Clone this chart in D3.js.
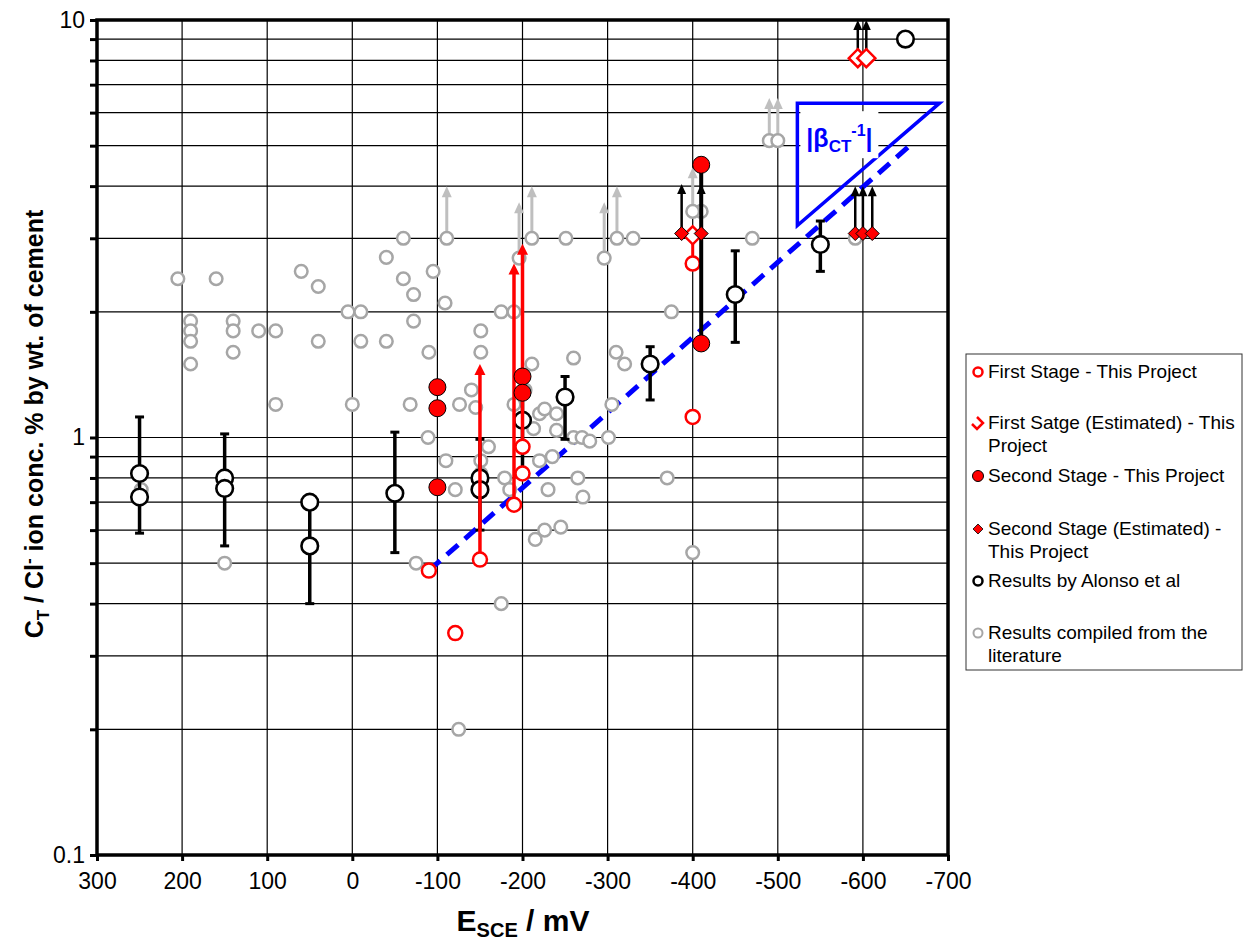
<!DOCTYPE html>
<html>
<head>
<meta charset="utf-8">
<script src="https://cdn.jsdelivr.net/npm/d3@7"></script>
<style>
  body { margin: 0; background: #fff; }
  text { font-family: Arial, "Liberation Sans", sans-serif; }
</style>
</head>
<body>
<div id="chart"></div>
<script>
// x ticks (mV) and y ticks (% by wt. of cement)
var xTicks = [300, 200, 100, 0, -100, -200, -300, -400, -500, -600, -700];
var yTickLabels = [0.1, 1, 10];
var yGrid = [0.2, 0.3, 0.4, 0.5, 0.6, 0.7, 0.8, 0.9, 1, 2, 3, 4, 5, 6, 7, 8, 9];

// results compiled from the literature [E, C]
var literature = [
    [205, 2.4], [160, 2.4], [60, 2.5], [40, 2.3], [5, 2.0], [-10, 2.0],
    [190, 1.9], [190, 1.8], [190, 1.7], [190, 1.5],
    [140, 1.9], [140, 1.8], [140, 1.6], [110, 1.8], [90, 1.8],
    [40, 1.7], [-10, 1.7], [90, 1.2], [0, 1.2], [248, 0.75], [150, 0.5],
    [-60, 3.0], [-40, 2.7], [-95, 2.5], [-60, 2.4], [-72, 2.2], [-109, 2.1],
    [-175, 2.0], [-190, 2.0], [-72, 1.9], [-151, 1.8], [-40, 1.7], [-151, 1.6], [-90, 1.6],
    [-211, 1.5], [-260, 1.55], [-310, 1.6], [-320, 1.5],
    [-140, 1.3], [-68, 1.2], [-126, 1.2], [-145, 1.18], [-190, 1.2], [-203, 1.3],
    [-220, 1.14], [-226, 1.17], [-240, 1.14], [-213, 1.05], [-240, 1.04],
    [-260, 1.0], [-270, 1.0], [-279, 0.98], [-301, 1.0], [-305, 1.2],
    [-89, 1.0], [-160, 0.95], [-110, 0.88], [-151, 0.88], [-151, 0.82],
    [-220, 0.88], [-235, 0.9], [-179, 0.8], [-185, 0.75], [-121, 0.75], [-230, 0.75],
    [-265, 0.8], [-271, 0.72], [-215, 0.57], [-226, 0.6], [-245, 0.61],
    [-75, 0.5], [-175, 0.4], [-125, 0.2],
    [-375, 2.0], [-370, 0.8], [-400, 0.53],
    [-251, 3.0], [-330, 3.0], [-470, 3.0], [-591, 3.0], [-410, 3.48]
];
// literature points with an upward arrow [E, from, to]
var literatureArrows = [
    [-111, 3.0, 4.0], [-196, 2.69, 3.66], [-211, 3.0, 4.0], [-296, 2.69, 3.66],
    [-311, 3.0, 4.0], [-490, 5.14, 6.5], [-500, 5.14, 6.5], [-400, 3.48, 4.44]
];

// Alonso et al: points and error bars [E, low, high]
var alonso = [
    [250, 0.82], [250, 0.72], [150, 0.80], [150, 0.755], [50, 0.70], [50, 0.55],
    [-50, 0.735], [-150, 0.80], [-150, 0.75], [-200, 1.10], [-250, 1.25],
    [-350, 1.50], [-450, 2.20], [-550, 2.90], [-650, 9.0]
];
var alonsoBars = [
    [250, 0.59, 1.12], [150, 0.55, 1.02], [50, 0.40, 0.70], [-50, 0.53, 1.03],
    [-150, 0.60, 0.99], [-200, 0.80, 1.28], [-250, 0.99, 1.40],
    [-350, 1.23, 1.65], [-450, 1.69, 2.80], [-550, 2.50, 3.30]
];

// this project
var firstStage = [[-90, 0.48], [-150, 0.51], [-190, 0.69], [-200, 0.82], [-200, 0.95],
    [-121, 0.34], [-400, 1.12], [-400, 2.61]];
var firstStageArrows = [[-150, 0.51, 1.50], [-190, 0.69, 2.61], [-200, 0.95, 2.91]];
var firstStageLinks = [[-400, 2.61, 3.05]];
var firstEstimated = [[-400, 3.05], [-594, 8.1], [-604, 8.1]];
var secondStage = [[-100, 1.32], [-100, 1.175], [-100, 0.76], [-200, 1.40], [-200, 1.28],
    [-410, 4.5], [-410, 1.68]];
var secondStageRange = [[-410, 1.68, 4.5]];
var secondEstimated = [[-387, 3.08], [-410, 3.08], [-591, 3.08], [-600, 3.08], [-611, 3.08]];
var estimatedArrows = [[-387, 3.08, 4.05], [-410, 3.08, 4.05], [-591, 3.08, 4.0],
    [-600, 3.08, 4.0], [-611, 3.08, 4.0], [-594, 8.1, 10], [-604, 8.1, 10]];

// trend line and slope triangle
var trendLine = [[-90, 0.48], [-655, 5.0]];
var slopeTriangle = [[-523, 6.32], [-690, 6.32], [-523, 3.22]];

var legendItems = [
    {lines: ['First Stage - This Project'], mark: 'firstStage'},
    {lines: ['First Satge (Estimated) - This', 'Project'], mark: 'firstEstimated'},
    {lines: ['Second Stage - This Project'], mark: 'secondStage'},
    {lines: ['Second Stage (Estimated) -', 'This Project'], mark: 'secondEstimated'},
    {lines: ['Results by Alonso et al'], mark: 'alonso'},
    {lines: ['Results compiled from the', 'literature'], mark: 'literature'}
];

drawChart();

function drawChart() {

    var W = 1243, H = 943;
    var margin = {left: 97, right: 948, top: 20, bottom: 855};
    var FONT = 'Arial, "Liberation Sans", sans-serif';

    var svg = d3.select('#chart').append('svg')
        .attr('width', W).attr('height', H);

    var x = d3.scaleLinear().domain([300, -700]).range([margin.left, margin.right]);
    var y = d3.scaleLog().domain([0.1, 10]).range([margin.bottom, margin.top]);

    var RED = '#ff0000', GREY = '#a6a6a6', GREY_ARROW = '#bfbfbf', BLUE = '#0000ff';

    // grid
    var grid = svg.append('g');
    grid.selectAll('.hg').data(yGrid).enter().append('line')
        .attr('x1', margin.left).attr('x2', margin.right)
        .attr('y1', function (d) { return y(d); }).attr('y2', function (d) { return y(d); })
        .attr('stroke', '#000').attr('stroke-width', 1.2);
    grid.selectAll('.vg').data(xTicks.slice(1, -1)).enter().append('line')
        .attr('x1', function (d) { return x(d); }).attr('x2', function (d) { return x(d); })
        .attr('y1', margin.top).attr('y2', margin.bottom)
        .attr('stroke', '#000').attr('stroke-width', 1.2);

    // axes
    var xAxis = d3.axisBottom(x).tickValues(xTicks).tickSize(6).tickPadding(12)
        .tickFormat(function (d) { return d; });
    var gx = svg.append('g').attr('transform', 'translate(0,' + margin.bottom + ')').call(xAxis);
    gx.select('.domain').remove();
    gx.selectAll('line').attr('stroke', '#000').attr('stroke-width', 3);
    gx.selectAll('text').attr('font-size', 23).attr('fill', '#000').style('font-family', FONT);

    var yAxis = d3.axisLeft(y).tickValues(yGrid.concat([0.1, 10])).tickSize(7).tickPadding(5)
        .tickFormat(function (d) { return yTickLabels.indexOf(d) >= 0 ? d : ''; });
    var gy = svg.append('g').attr('transform', 'translate(' + margin.left + ',0)').call(yAxis);
    gy.select('.domain').remove();
    gy.selectAll('line').attr('stroke', '#000').attr('stroke-width', 3);
    gy.selectAll('text').attr('font-size', 23).attr('fill', '#000').style('font-family', FONT);

    // frame
    svg.append('rect').attr('x', margin.left).attr('y', margin.top)
        .attr('width', margin.right - margin.left).attr('height', margin.bottom - margin.top)
        .attr('fill', 'none').attr('stroke', '#000').attr('stroke-width', 3.5);

    // axis titles
    var xt = svg.append('text').attr('x', 523).attr('y', 931)
        .attr('text-anchor', 'middle').attr('font-size', 30).attr('font-weight', 'bold');
    xt.append('tspan').text('E');
    xt.append('tspan').attr('font-size', 20).attr('dy', 6).text('SCE');
    xt.append('tspan').attr('dy', -6).text(' / mV');

    var yt = svg.append('text')
        .attr('transform', 'translate(43,424) rotate(-90)')
        .attr('text-anchor', 'middle').attr('font-size', 25).attr('font-weight', 'bold');
    yt.append('tspan').text('C');
    yt.append('tspan').attr('font-size', 17).attr('dy', 6).text('T');
    yt.append('tspan').attr('dy', -6).text(' / Cl');
    yt.append('tspan').attr('font-size', 17).attr('dy', -9).text('-');
    yt.append('tspan').attr('dy', 9).text(' ion conc. % by wt. of cement');

    // slope triangle with label
    var tri = d3.line().x(function (d) { return x(d[0]); }).y(function (d) { return y(d[1]); });
    svg.append('path').datum(slopeTriangle)
        .attr('d', function (d) { return tri(d) + 'Z'; })
        .attr('fill', 'none').attr('stroke', BLUE).attr('stroke-width', 3.5);
    var tx = x(slopeTriangle[0][0]), ty = y(slopeTriangle[0][1]);
    svg.append('rect').attr('x', tx + 3).attr('y', ty + 8).attr('width', 78).attr('height', 47)
        .attr('fill', '#fff');
    var bt = svg.append('text').attr('x', tx + 9).attr('y', ty + 44)
        .attr('font-size', 25).attr('font-weight', 'bold').attr('fill', BLUE);
    bt.append('tspan').text('|β');
    bt.append('tspan').attr('font-size', 17).attr('dy', 5).text('CT');
    bt.append('tspan').attr('font-size', 16).attr('dy', -16).text('-1');
    bt.append('tspan').attr('dy', 11).text('|');

    // trend line
    svg.append('path').datum(trendLine).attr('d', tri)
        .attr('fill', 'none').attr('stroke', BLUE).attr('stroke-width', 5)
        .attr('stroke-dasharray', '15,9');

    // arrows: line + triangular head
    function drawArrows(data, color, lw, hw, hh) {
        var g = svg.append('g');
        g.selectAll('line').data(data).enter().append('line')
            .attr('x1', function (d) { return x(d[0]); }).attr('x2', function (d) { return x(d[0]); })
            .attr('y1', function (d) { return y(d[1]); }).attr('y2', function (d) { return y(d[2]) + hh - 1; })
            .attr('stroke', color).attr('stroke-width', lw);
        g.selectAll('path').data(data).enter().append('path')
            .attr('d', function (d) {
                var px = x(d[0]), py = y(d[2]);
                return 'M' + px + ',' + py + 'L' + (px + hw / 2) + ',' + (py + hh) +
                    'L' + (px - hw / 2) + ',' + (py + hh) + 'Z';
            })
            .attr('fill', color);
    }

    function drawCircles(data, r, fill, stroke, sw) {
        svg.append('g').selectAll('circle').data(data).enter().append('circle')
            .attr('cx', function (d) { return x(d[0]); })
            .attr('cy', function (d) { return y(d[1]); })
            .attr('r', r).attr('fill', fill).attr('stroke', stroke).attr('stroke-width', sw);
    }

    function drawDiamonds(data, s, fill, stroke, sw) {
        svg.append('g').selectAll('path').data(data).enter().append('path')
            .attr('d', function (d) {
                var px = x(d[0]), py = y(d[1]);
                return 'M' + px + ',' + (py - s) + 'L' + (px + s) + ',' + py +
                    'L' + px + ',' + (py + s) + 'L' + (px - s) + ',' + py + 'Z';
            })
            .attr('fill', fill).attr('stroke', stroke).attr('stroke-width', sw);
    }

    function drawBars(data, color, w) {
        svg.append('g').selectAll('line').data(data).enter().append('line')
            .attr('x1', function (d) { return x(d[0]); }).attr('x2', function (d) { return x(d[0]); })
            .attr('y1', function (d) { return y(d[1]); }).attr('y2', function (d) { return y(d[2]); })
            .attr('stroke', color).attr('stroke-width', w);
    }

    // literature
    drawArrows(literatureArrows, GREY_ARROW, 3, 10, 11);
    drawCircles(literature.concat(literatureArrows.map(function (d) { return [d[0], d[1]]; })),
        6.3, '#fff', GREY, 2.5);

    // Alonso error bars
    drawBars(alonsoBars, '#000', 3.5);
    var eb = svg.append('g');
    [1, 2].forEach(function (k) {
        eb.selectAll('line.c' + k).data(alonsoBars).enter().append('line')
            .attr('class', 'c' + k)
            .attr('x1', function (d) { return x(d[0]) - 4.5; }).attr('x2', function (d) { return x(d[0]) + 4.5; })
            .attr('y1', function (d) { return y(d[k]); }).attr('y2', function (d) { return y(d[k]); })
            .attr('stroke', '#000').attr('stroke-width', 3);
    });
    drawCircles(alonso, 8.3, '#fff', '#000', 2.6);

    // first stage
    drawArrows(firstStageArrows, RED, 3.5, 11, 11);
    drawBars(firstStageLinks, RED, 3);
    drawCircles(firstStage, 7, '#fff', RED, 2.5);

    // second stage range bar
    drawBars(secondStageRange, '#000', 4);

    // estimated arrows and diamonds
    drawArrows(estimatedArrows, '#000', 2.5, 9, 10);
    drawDiamonds(firstEstimated, 9, '#fff', RED, 2.5);
    drawDiamonds(secondEstimated, 7, RED, '#000', 1);
    drawCircles(secondStage, 8.5, RED, '#000', 1);

    // legend
    var lx = 966, ly = 354;
    var lg = svg.append('g');
    lg.append('rect').attr('x', lx).attr('y', ly).attr('width', 276).attr('height', 316)
        .attr('fill', '#fff').attr('stroke', '#333').attr('stroke-width', 1);
    var rowY = [372, 423, 476, 529, 581, 633];
    legendItems.forEach(function (item, i) {
        var cy = rowY[i], cx = 978;
        var t = lg.append('text').attr('x', 988).attr('y', cy + 6).attr('font-size', 19).attr('fill', '#000');
        item.lines.forEach(function (s, j) {
            t.append('tspan').attr('x', 988).attr('dy', j === 0 ? 0 : 22.5).text(s);
        });
        if (item.mark === 'firstStage') {
            lg.append('circle').attr('cx', cx).attr('cy', cy).attr('r', 4.5)
                .attr('fill', '#fff').attr('stroke', RED).attr('stroke-width', 2.5);
        } else if (item.mark === 'firstEstimated') {
            lg.append('path').attr('d', 'M' + (cx - 1) + ',' + (cy - 6) + 'L' + (cx + 5) + ',' + cy +
                    'L' + (cx - 1) + ',' + (cy + 6) + 'L' + (cx - 6) + ',' + (cy + 1))
                .attr('fill', 'none').attr('stroke', RED).attr('stroke-width', 2.5);
        } else if (item.mark === 'secondStage') {
            lg.append('circle').attr('cx', cx).attr('cy', cy).attr('r', 5.5)
                .attr('fill', RED).attr('stroke', '#000').attr('stroke-width', 1);
        } else if (item.mark === 'secondEstimated') {
            lg.append('path').attr('d', 'M' + cx + ',' + (cy - 5) + 'L' + (cx + 5) + ',' + cy +
                    'L' + cx + ',' + (cy + 5) + 'L' + (cx - 5) + ',' + cy + 'Z')
                .attr('fill', RED).attr('stroke', '#000').attr('stroke-width', 0.8);
        } else if (item.mark === 'alonso') {
            lg.append('circle').attr('cx', cx).attr('cy', cy).attr('r', 4.5)
                .attr('fill', '#fff').attr('stroke', '#000').attr('stroke-width', 2.5);
        } else {
            lg.append('circle').attr('cx', cx).attr('cy', cy).attr('r', 4.5)
                .attr('fill', '#fff').attr('stroke', GREY).attr('stroke-width', 2);
        }
    });
}
</script>
</body>
</html>
